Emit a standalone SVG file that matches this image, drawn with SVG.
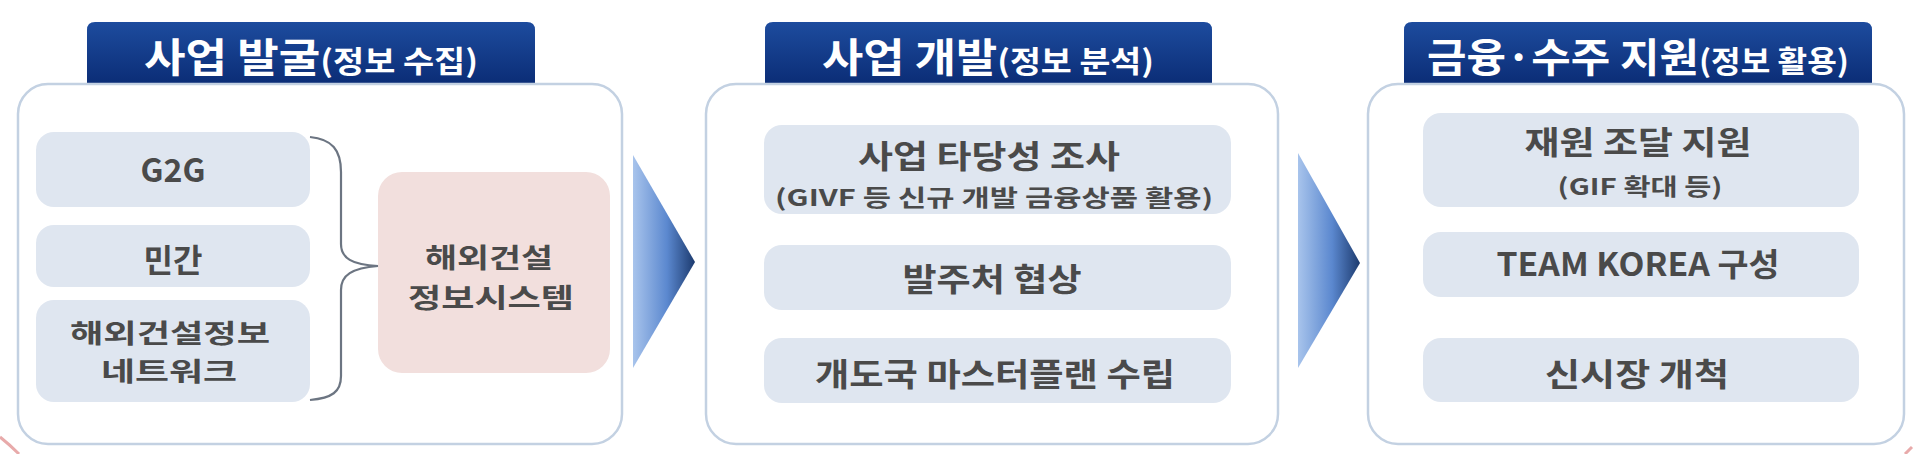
<svg xmlns="http://www.w3.org/2000/svg" width="1920" height="454" viewBox="0 0 1920 454">
<style>
.outer{fill:#ffffff;stroke:#c3d1e2;stroke-width:2.5}
.tab{fill:url(#tabGrad)}
.item{fill:#dfe6f0}
.pink{fill:#f2dfdd}
.hd{font-family:"Noto Sans CJK KR","Noto Sans",sans-serif;font-weight:bold;fill:#ffffff;text-anchor:middle}
.hb{font-size:40px}
.hs{font-size:30px}
.t{font-family:"Noto Sans CJK KR","Noto Sans",sans-serif;font-weight:bold;fill:#4a4a4a;text-anchor:middle;font-size:32px}
.ts{font-size:23px}
.tm{font-size:27px}
.tn{font-size:26px}
.brace{fill:none;stroke:#6c7582;stroke-width:2.2}
.arrow{fill:url(#arrowGrad)}
</style>
<defs>
<linearGradient id="tabGrad" x1="0" y1="0" x2="0" y2="1">
<stop offset="0" stop-color="#1d4c9e"/>
<stop offset="1" stop-color="#0b2d76"/>
</linearGradient>
<linearGradient id="arrowGrad" x1="0" y1="0" x2="1" y2="0">
<stop offset="0" stop-color="#a8c4ec"/>
<stop offset="0.55" stop-color="#5b88cf"/>
<stop offset="1" stop-color="#1c3a6e"/>
</linearGradient>
</defs>
<rect width="1920" height="454" fill="#ffffff"/>

<g id="stage1">
<path class="tab" d="M87,84 V30 Q87,22 95,22 H527 Q535,22 535,30 V84 Z"/>
<text class="hd" x="311" y="72" textLength="334" lengthAdjust="spacingAndGlyphs"><tspan class="hb">사업 발굴</tspan><tspan class="hs">(정보 수집)</tspan></text>
<rect class="outer" x="18" y="84" width="604" height="360" rx="30"/>
</g>
<g id="g2g">
<rect class="item" x="36" y="132" width="274" height="75" rx="18"/>
<text class="t" x="173" y="182" textLength="65" lengthAdjust="spacingAndGlyphs">G2G</text>
</g>
<g id="private">
<rect class="item" x="36" y="225" width="274" height="62" rx="18"/>
<text class="t" x="173" y="272">민간</text>
</g>
<g id="network">
<rect class="item" x="36" y="300" width="274" height="102" rx="18"/>
<text class="t tn" x="170" y="343" textLength="200" lengthAdjust="spacingAndGlyphs">해외건설정보</text>
<text class="t tn" x="169" y="381" textLength="136" lengthAdjust="spacingAndGlyphs">네트워크</text>
</g>
<g id="infosystem">
<rect class="pink" x="378" y="172" width="232" height="201" rx="24"/>
<text class="t tm" x="489" y="268" textLength="128" lengthAdjust="spacingAndGlyphs">해외건설</text>
<text class="t tm" x="491" y="308" textLength="166" lengthAdjust="spacingAndGlyphs">정보시스템</text>
</g>

<g id="stage2">
<path class="tab" d="M765,84 V30 Q765,22 773,22 H1204 Q1212,22 1212,30 V84 Z"/>
<text class="hd" x="988" y="72" textLength="332" lengthAdjust="spacingAndGlyphs"><tspan class="hb">사업 개발</tspan><tspan class="hs">(정보 분석)</tspan></text>
<rect class="outer" x="706" y="84" width="572" height="360" rx="30"/>
</g>
<g id="feasibility">
<rect class="item" x="764" y="125" width="467" height="89" rx="18"/>
<text class="t" x="989" y="168" textLength="262" lengthAdjust="spacingAndGlyphs">사업 타당성 조사</text>
<text class="t ts" x="994" y="206" textLength="438" lengthAdjust="spacingAndGlyphs">(GIVF 등 신규 개발 금융상품 활용)</text>
</g>
<g id="negotiation">
<rect class="item" x="764" y="245" width="467" height="65" rx="18"/>
<text class="t" x="992" y="291" textLength="179" lengthAdjust="spacingAndGlyphs">발주처 협상</text>
</g>
<g id="masterplan">
<rect class="item" x="764" y="338" width="467" height="65" rx="18"/>
<text class="t" x="995" y="386" textLength="360" lengthAdjust="spacingAndGlyphs">개도국 마스터플랜 수립</text>
</g>

<g id="stage3">
<path class="tab" d="M1404,84 V30 Q1404,22 1412,22 H1864 Q1872,22 1872,30 V84 Z"/>
<text class="hd" x="1638" y="72" textLength="422" lengthAdjust="spacingAndGlyphs"><tspan class="hb">금융·수주 지원</tspan><tspan class="hs">(정보 활용)</tspan></text>
<rect class="outer" x="1368" y="84" width="536" height="360" rx="30"/>
</g>
<g id="funding">
<rect class="item" x="1423" y="113" width="436" height="94" rx="18"/>
<text class="t" x="1638" y="154" textLength="227" lengthAdjust="spacingAndGlyphs">재원 조달 지원</text>
<text class="t ts" x="1640" y="195" textLength="165" lengthAdjust="spacingAndGlyphs">(GIF 확대 등)</text>
</g>
<g id="teamkorea">
<rect class="item" x="1423" y="232" width="436" height="65" rx="18"/>
<text class="t" x="1638" y="276" textLength="283" lengthAdjust="spacingAndGlyphs">TEAM KOREA 구성</text>
</g>
<g id="newmarket">
<rect class="item" x="1423" y="338" width="436" height="64" rx="18"/>
<text class="t" x="1637" y="386" textLength="184" lengthAdjust="spacingAndGlyphs">신시장 개척</text>
</g>

<g id="connectors">
<path class="brace" d="M310,137 C332,139 341,150 341,172 L341,244 C341,258 352,265 378,266 C352,268 341,275 341,290 L341,376 C341,392 332,398 310,400"/>
<polygon class="arrow" points="633,155 695,262 633,368"/>
<polygon class="arrow" points="1298,153 1360,263 1298,368"/>
</g>

<path d="M0,437 Q10,445 19,454" fill="none" stroke="#e8aaaa" stroke-width="3"/>
<path d="M1905,454 L1912,447" fill="none" stroke="#e8aaaa" stroke-width="3"/>
</svg>
